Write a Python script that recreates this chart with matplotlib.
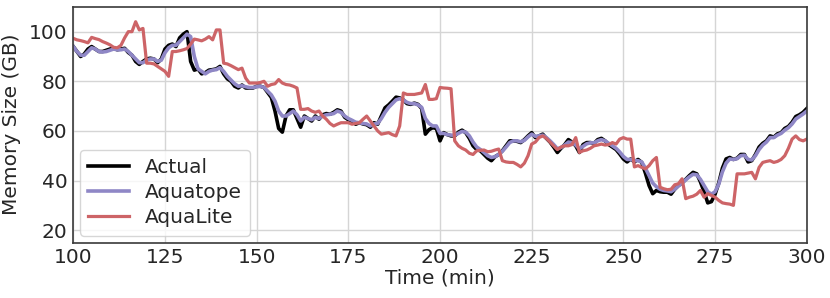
import matplotlib
matplotlib.use('Agg')
import matplotlib.pyplot as plt
import numpy as np

# time axis, one sample per minute
minutes = np.arange(100, 301)

actual = [
    94, 92, 90, 91, 93, 94, 93, 92, 92, 92.5,
    93, 93.3, 92.7, 93, 93.3, 91.6, 90.5, 88, 86.8, 88,
    89, 89.3, 89, 87.5, 89, 93, 94.5, 95, 94, 97.5,
    99, 100, 88, 84.5, 85, 83, 83.5, 84.5, 84.7, 85,
    86, 83, 81, 80, 78, 77.3, 78.5, 77.3, 77.3, 77.3,
    78, 78, 77.5, 75.5, 73.5, 68, 61, 59.5, 66, 68.5,
    68.5, 65, 61.5, 66, 65, 64, 66, 64.7, 66.5, 67,
    66.7, 67.5, 68.5, 68, 65.5, 64.5, 64, 62.7, 63.3, 62.8,
    62.5, 61.5, 63.3, 62.7, 66, 69.3, 70.5, 72, 73.6, 73.3,
    72.5, 71, 70.7, 71.2, 70.7, 69, 58.7, 60.5, 61.3, 61,
    56, 59.3, 58.5, 58, 58, 59.5, 60.3, 59.3, 57, 54,
    52.5, 52, 50.5, 49, 48, 49.6, 50.5, 52, 54, 56,
    56, 55.8, 55.3, 56.5, 58, 59.3, 57.3, 58, 58.7, 57,
    55.5, 53.5, 51.3, 53, 54.5, 56.5, 55.5, 54, 51.3, 54.5,
    55.3, 55.3, 55, 56.5, 57, 56, 54.5, 53.5, 52.5, 50.7,
    48.7, 47.5, 48.7, 47.5, 48.5, 47.3, 43, 38, 34.7, 36,
    35.5, 35.3, 35.3, 34.5, 36.5, 38, 39, 40.5, 42, 43.3,
    42.7, 39.5, 35.5, 31, 31.5, 34.5, 39, 45, 48.7, 49.3,
    48.5, 49, 50.5, 50.5, 47.5, 48, 50.5, 53.5, 55, 56,
    58, 57.5, 58.8, 59.3, 61, 61.8, 63.5, 65.8, 66.5, 67.5,
    69,
]

aquatope = [
    94, 92, 90.5, 90.5, 92, 93.5, 93, 92, 91.8, 92,
    92.5, 93, 92.7, 92.7, 93, 92, 90.5, 89, 87.5, 87.5,
    88.5, 89, 89, 88, 88.5, 91.5, 93.5, 94.5, 94.5, 96,
    97.5, 99, 98, 90, 85, 84, 83, 84, 84.5, 84.7,
    85.5, 84, 82, 80.5, 79, 78, 78.2, 77.8, 77.5, 77.5,
    77.8, 78, 77.5, 76, 74.5, 72, 68, 66, 66, 67,
    68, 66.5, 64, 65.5, 65, 64.5, 65.5, 65, 66, 66.5,
    66.7, 67, 68, 67.5, 66, 65, 64.3, 63.5, 63.3, 63,
    62.8, 62, 62.8, 63, 65, 67.5, 69.5, 71, 72.5, 73,
    72.5, 71.5, 71, 71, 70.5, 69.5, 65, 63, 62, 62,
    59, 59, 58.5, 58.3, 58.3, 59, 59.8, 59.5, 58, 55.5,
    53.5, 52.5, 51.3, 50, 49.3, 49.6, 50.5, 51.8, 53.5, 55.3,
    56, 56, 55.6, 56.2, 57.6, 58.7, 57.8, 58, 58.3, 57.3,
    56, 54.5, 52.8, 53.3, 54.3, 55.5, 55.3, 54.3, 52.8, 53.8,
    54.8, 55.2, 55.2, 56, 56.5, 56, 55, 54, 53, 51.5,
    49.7, 48.5, 48.5, 48, 48, 47.5, 45, 42, 39, 37.5,
    36.5, 36, 35.8, 35.5, 36.5, 37.8, 39, 40.3, 41.5, 42.5,
    42.3, 40.5, 38, 35.5, 34.5, 35.5, 38.5, 43.5, 47, 48.7,
    48.5, 48.8, 50, 50.2, 48.5, 48.3, 50, 52.5, 54.3, 55.5,
    57.3, 57.3, 58.3, 59, 60.3, 61.3, 62.8, 64.8, 65.8, 66.8,
    68,
]

aqualite = [
    97.3, 96.7, 96.4, 96, 95.5, 97.7, 97.2, 96.8, 96, 95.4,
    94.7, 93.7, 93.5, 94.5, 97.5, 100, 100, 104, 100.7, 101.3,
    87.3, 87.3, 87, 86, 85, 84, 82, 92, 92, 92.3,
    92.7, 93.2, 95, 97, 96.7, 96.3, 97, 98, 96.7, 100.7,
    100.7, 87.3, 87, 86.3, 85.5, 84.7, 85.3, 81.3, 79.3, 79.3,
    79.3, 79.5, 80, 78, 78.7, 79, 80.7, 79.3, 78.7, 78.5,
    78, 77.3, 68.7, 68.7, 69, 68, 67.5, 68, 66, 64.7,
    63, 62, 62.7, 63.3, 63.3, 63.3, 62.7, 63, 63.3, 64.7,
    66, 64, 62, 60, 58.7, 59, 59.3, 58.5, 58, 62,
    75.3, 74.7, 74.7, 74.7, 75, 75.3, 78.7, 72.7, 72.7, 73,
    77.5, 77.3, 77.2, 77, 56, 54, 53, 52.3, 51, 50.5,
    52, 52.2, 52.3, 51.6, 51.8, 52.3, 52.7, 48, 47.5, 47.3,
    47.3, 46.5, 45.5, 47, 50, 54.7, 55.5, 57.3, 58, 57,
    55.5, 54, 52.5, 53.5, 54, 54, 54.5, 57.3, 51.3, 52,
    52.3, 53, 54, 54.3, 54.7, 54.3, 54.5, 55.3, 54.7, 56.7,
    57.3, 56.7, 56.7, 45.5, 46, 45.3, 44.7, 46, 48, 49.3,
    37.3, 36.7, 36.3, 36.5, 38.3, 38.7, 40.7, 32.7, 33.3, 33.7,
    34.5, 36, 33.3, 34.7, 34, 33.3, 32, 31, 30.7, 30.5,
    30, 42.7, 42.7, 42.7, 43, 43.3, 40.7, 45.3, 47.3, 47.7,
    48, 47.3, 47.7, 48.5, 50, 53, 56.7, 58, 56.5, 56,
    56.7,
]

x_ticks = [100, 125, 150, 175, 200, 225, 250, 275, 300]
y_ticks = [20, 40, 60, 80, 100]

plt.rcParams['font.family'] = 'DejaVu Sans'
plt.rcParams['font.size'] = 14.5
text_col = '#262626'

fig = plt.figure(figsize=(8.3, 2.98), dpi=100)
ax = fig.add_axes([0.0883, 0.186, 0.8837, 0.791])

ax.plot(minutes, actual, color='black', lw=2.6, label='Actual')
ax.plot(minutes, aquatope, color='#8f87c6', lw=2.6, label='Aquatope')
ax.plot(minutes, aqualite, color='#cd6467', lw=2.3, label='AquaLite')

ax.set_xlim(100, 300)
ax.set_ylim(15, 110)
ax.set_xticks(x_ticks)
ax.set_yticks(y_ticks)
ax.grid(True, color='#d5d5d5', lw=1.0)
ax.set_axisbelow(True)
ax.tick_params(length=0, pad=4, labelcolor=text_col, labelsize=14.5)
for s in ax.spines.values():
    s.set_color('#3a3a3a')
    s.set_linewidth(1.2)

ax.set_xlabel('Time (min)', color=text_col, fontsize=14.5, labelpad=1)
ax.set_ylabel('Memory Size (GB)', color=text_col, fontsize=14.5, labelpad=6)

leg = ax.legend(loc='lower left', fontsize=14.5, frameon=True, handlelength=2.0,
                borderaxespad=0.35, labelspacing=0.3, fancybox=True)
leg.get_frame().set_edgecolor('#cccccc')
for t in leg.get_texts():
    t.set_color(text_col)

fig.savefig('out.png', dpi=100)
